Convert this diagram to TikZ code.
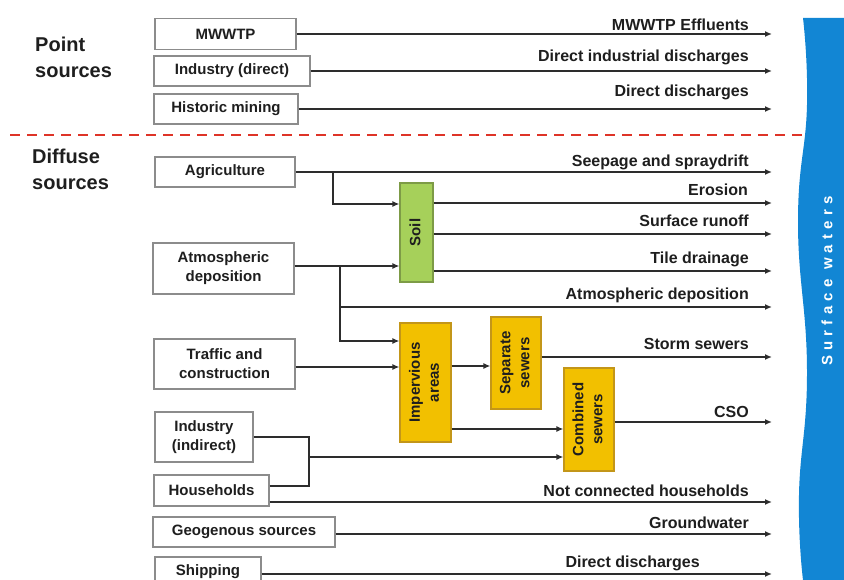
\documentclass[tikz,border=0pt]{standalone}
\usepackage{fontspec}
\setmainfont{Liberation Sans}
\newfontfamily\wideletters[LetterSpace=35]{Liberation Sans}
\usepackage{graphicx}
\usetikzlibrary{arrows.meta}

\definecolor{linegray}{RGB}{45,45,45}
\definecolor{boxgray}{RGB}{140,140,140}
\definecolor{textgray}{RGB}{30,30,30}
\definecolor{soilgreen}{RGB}{166,208,90}
\definecolor{soilrim}{RGB}{125,155,70}
\definecolor{sewergold}{RGB}{242,192,0}
\definecolor{sewerrim}{RGB}{195,150,25}
\definecolor{waterblue}{RGB}{18,134,212}
\definecolor{dashred}{RGB}{222,52,40}

\newcommand{\turned}[1]{\rotatebox{90}{\begin{tabular}{@{}c@{}}#1\end{tabular}}}

\begin{document}
\begin{tikzpicture}[x=1pt, y=-1pt,
  srcbox/.style={draw=boxgray, line width=1.1pt, inner sep=0pt, align=center,
    font=\fontsize{15}{19}\selectfont\bfseries, text=textgray},
  soilbox/.style={srcbox, fill=soilgreen, draw=soilrim},
  sewerbox/.style={srcbox, fill=sewergold, draw=sewerrim},
  flow/.style={draw=linegray, line width=1.4pt},
  flowto/.style={flow, -{Latex[length=7pt,width=6pt]}},
  lbl/.style={anchor=base east, inner sep=0pt,
    font=\fontsize{16}{18}\selectfont\bfseries, text=textgray},
  heading/.style={anchor=base west, inner sep=0pt, align=left,
    font=\fontsize{20}{26}\selectfont\bfseries, text=textgray}]

\useasboundingbox (0,0) rectangle (844,580);

\draw[dashred, line width=2.5pt, dash pattern=on 10pt off 7pt] (10,135) -- (804,135);

% surface waters
\fill[waterblue] plot[smooth, tension=0.8] coordinates {(803,18) (807,105) (798,222)
  (807,370) (799,495) (803,580)}
  -- (844,580) -- (844,18) -- cycle;
\node[rotate=90, inner sep=0pt, text=white, font=\fontsize{15}{17}\wideletters\bfseries] (water) at (827,281) {Surface waters};

\node[heading] (pointhd) at (35,78) {Point\\sources};
\node[heading] (diffhd) at (32,190) {Diffuse\\sources};

% sources
\node[srcbox, minimum width=141pt, minimum height=31pt] (mwwtp) at (225.5,34) {MWWTP};
\node[srcbox, minimum width=156pt, minimum height=30pt] (inddir) at (232,71) {Industry (direct)};
\node[srcbox, minimum width=144pt, minimum height=30pt] (mining) at (226,109) {Historic mining};
\node[srcbox, minimum width=140pt, minimum height=30pt] (agri) at (225,172) {Agriculture};
\node[srcbox, minimum width=141pt, minimum height=51pt] (atmo) at (223.5,268.5) {Atmospheric\\deposition};
\node[srcbox, minimum width=141pt, minimum height=50pt] (traffic) at (224.5,364) {Traffic and\\construction};
\node[srcbox, minimum width=98pt, minimum height=50pt] (indind) at (204,437) {Industry\\(indirect)};
\node[srcbox, minimum width=115pt, minimum height=31pt] (house) at (211.5,490.5) {Households};
\node[srcbox, minimum width=182pt, minimum height=30pt] (geo) at (244,532) {Geogenous sources};
\node[srcbox, minimum width=106pt, minimum height=30pt] (ship) at (208,572) {Shipping};

% pathways
\node[soilbox, minimum width=33pt, minimum height=99pt] (soil) at (416.5,232.5) {\turned{Soil}};
\node[sewerbox, minimum width=51pt, minimum height=119pt] (imperv) at (425.5,382.5) {\turned{Impervious\\areas}};
\node[sewerbox, minimum width=50pt, minimum height=92pt] (separ) at (516,363) {\turned{Separate\\sewers}};
\node[sewerbox, minimum width=50pt, minimum height=103pt] (combi) at (589,419.5) {\turned{Combined\\sewers}};

\coordinate (rim) at (772,0);
\coordinate (agrisplit) at (333,172);
\coordinate (atmosplit) at (340,266);
\coordinate (atmoout) at (772,307);
\coordinate (hhjoin) at (309,457);

\draw[flowto] (mwwtp.east) -- (mwwtp.east -| rim);
\draw[flowto] (inddir.east) -- (inddir.east -| rim);
\draw[flowto] (mining.east) -- (mining.east -| rim);

\draw[flowto] (agri.east) -- (agri.east -| rim);
\draw[flowto] (agrisplit) |- ([yshift=28.5pt]soil.west);
\draw[flowto] ([yshift=29.5pt]soil.east) -- ([yshift=29.5pt]soil.east -| rim);
\draw[flowto] ([yshift=-1.5pt]soil.east) -- ([yshift=-1.5pt]soil.east -| rim);
\draw[flowto] ([yshift=-38.5pt]soil.east) -- ([yshift=-38.5pt]soil.east -| rim);

\draw[flowto] ([yshift=2.5pt]atmo.east) -- ([yshift=2.5pt]atmo.east -| soil.west);
\draw[flowto] (atmosplit) |- (atmoout);
\draw[flowto] (atmosplit) |- ([yshift=41.5pt]imperv.west);

\draw[flowto] ([yshift=-3pt]traffic.east) -- ([yshift=-3pt]traffic.east -| imperv.west);
\draw[flowto] ([yshift=-3pt]separ.west -| imperv.east) -- ([yshift=-3pt]separ.west);
\draw[flowto] ([yshift=6pt]separ.east) -- ([yshift=6pt]separ.east -| rim);
\draw[flowto] ([yshift=-46.5pt]imperv.east) -- ([yshift=-46.5pt]imperv.east -| combi.west);
\draw[flowto] ([yshift=-2.5pt]combi.east) -- ([yshift=-2.5pt]combi.east -| rim);

\draw[flow] (indind.east) -| (hhjoin);
\draw[flow] ([yshift=4.5pt]house.east) -| (hhjoin);
\draw[flowto] (hhjoin) -- (hhjoin -| combi.west);
\draw[flowto] ([yshift=-11.5pt]house.east) -- ([yshift=-11.5pt]house.east -| rim);
\draw[flowto] ([yshift=-2pt]geo.east) -- ([yshift=-2pt]geo.east -| rim);
\draw[flowto] ([yshift=-2pt]ship.east) -- ([yshift=-2pt]ship.east -| rim);

% flow labels
\node[lbl] (lmwwtp) at (749,31) {MWWTP Effluents};
\node[lbl] (linddir) at (749,62) {Direct industrial discharges};
\node[lbl] (lmining) at (749,97) {Direct discharges};
\node[lbl] (lseep) at (749,167) {Seepage and spraydrift};
\node[lbl] (lerosion) at (748,196) {Erosion};
\node[lbl] (lrunoff) at (749,227) {Surface runoff};
\node[lbl] (ltile) at (749,264) {Tile drainage};
\node[lbl] (latmo) at (749,300) {Atmospheric deposition};
\node[lbl] (lstorm) at (749,349) {Storm sewers};
\node[lbl] (lcso) at (749,417) {CSO};
\node[lbl] (lnotconn) at (749,496) {Not connected households};
\node[lbl] (lground) at (749,528) {Groundwater};
\node[lbl] (lship) at (700,567) {Direct discharges};

\end{tikzpicture}
\end{document}
